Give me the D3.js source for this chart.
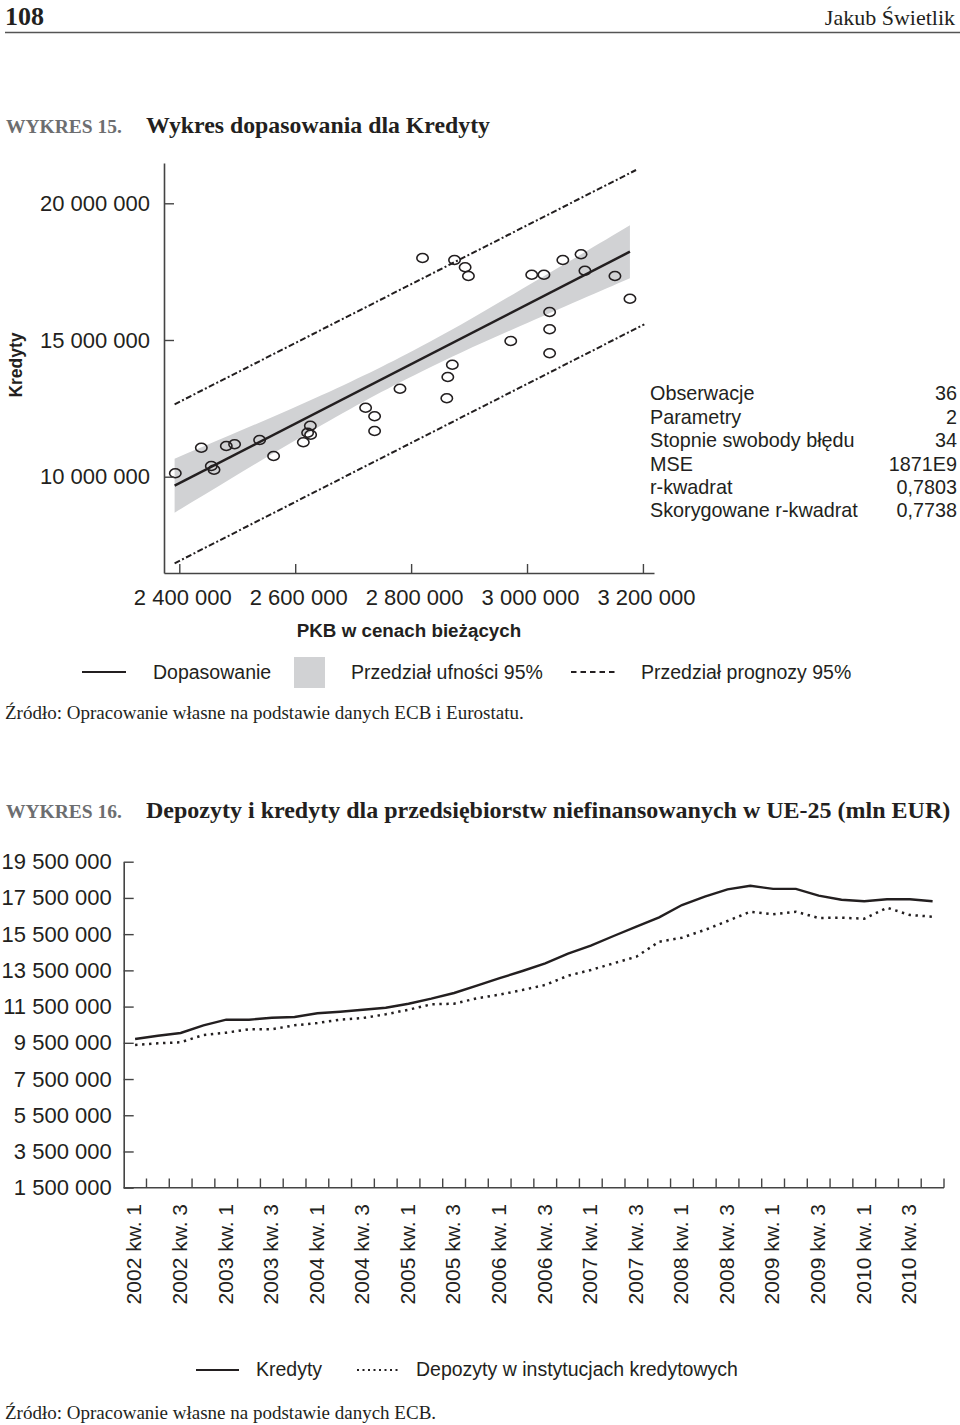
<!DOCTYPE html>
<html><head><meta charset="utf-8">
<script src="https://cdn.jsdelivr.net/npm/d3@7"></script>
<style>
body{margin:0;background:#fff}
svg text{fill:#231f20}
.sans{font-family:"Liberation Sans",Arial,sans-serif}
.serif{font-family:"Liberation Serif","Times New Roman",serif}
</style>
</head><body>
<svg id="c" width="960" height="1425"></svg>
<script>
// ---------- DATA: Wykres 15 ----------
const pkb = [2393100,2438000,2455200,2459900,2481100,2495400,2538600,2562700,2614000,2621400,2626100,2626600,
  2721500,2737000,2737000,2780800,2819700,2861600,2863300,2871100,2874900,2893200,2898900,2971900,
  3008100,3029200,3039000,3039000,3039000,3061800,3093200,3099900,3151700,3177600];
const kredytyObs = [10124000,11060700,10391400,10256000,11122900,11185100,11342300,10757100,11258200,11609300,11865400,11536200,
  12523700,12209100,11671500,13218700,17999200,12867600,13646700,14096500,17926000,17659000,17340800,14963400,
  17388400,17388400,16024100,15391300,14513500,17926000,18134500,17534600,17340800,16510500];
const fitX = [2391900, 3177560];
const fitY = [9670800, 18229600];
const ciX     = [2391900, 2488000, 2591540, 2695070, 2781350, 2884890, 2988420, 3091960, 3177560];
const ciLower = [8683300, 9912200, 11225300, 12479900, 13456400, 14528100, 15512000, 16474000, 17260300];
const ciUpper = [10658400, 11521600, 12468900, 13467400, 14370800, 15552200, 16828700, 18119900, 19198900];
const predUpperX = [2391900, 3188080], predUpperY = [12648100, 21217900];
const predLowerX = [2391900, 3202400], predLowerY = [6832500, 15574200];
const xTicks1 = [2400000, 2600000, 2800000, 3000000, 3200000];
const yTicks1 = [10000000, 15000000, 20000000];
const statLabels = ["Obserwacje","Parametry","Stopnie swobody błędu","MSE","r-kwadrat","Skorygowane r-kwadrat"];
const statValues = ["36","2","34","1871E9","0,7803","0,7738"];
const legend1 = ["Dopasowanie","Przedział ufności 95%","Przedział prognozy 95%"];

// ---------- DATA: Wykres 16 ----------
const years = [2002,2003,2004,2005,2006,2007,2008,2009,2010];
const quarters = [];
years.forEach(y => [1,2,3,4].forEach(q => quarters.push(y + " kw. " + q)));
const kredyty2 = [9710500,9892700,10041800,10467000,10776000,10776000,10886500,10925200,11129500,11218000,11328000,11438700,
  11659600,11935600,12250400,12653400,13070000,13465100,13890300,14420300,14862000,15397600,15911100,16430100,
  17109300,17567600,17976200,18175000,17998300,17998300,17622800,17402000,17313600,17424100,17424100,17313600];
const depozyty2 = [9379200,9473000,9528300,9931300,10058300,10246000,10246000,10467000,10594000,10776000,10870000,11074300,
  11328000,11626500,11659600,11957700,12160000,12416000,12692000,13205600,13520300,13890300,14254700,15082900,
  15303800,15729000,16225900,16739300,16595800,16739300,16391500,16408100,16352800,16960200,16557100,16463200];
const yTicks2 = [1500000,3500000,5500000,7500000,9500000,11500000,13500000,15500000,17500000,19500000];
const legend2 = ["Kredyty","Depozyty w instytucjach kredytowych"];

// ---------- helpers ----------
const loc = d3.formatLocale({decimal:",", thousands:" ", grouping:[3], currency:["",""]});
const fmt = loc.format(",d");
const svg = d3.select("#c");
const INK = "#231f20";

// ---------- header ----------
svg.append("text").attr("class","serif").attr("x",5).attr("y",25)
  .style("font-size","26px").style("font-weight","bold").text("108");
svg.append("text").attr("class","serif").attr("x",955).attr("y",25).attr("text-anchor","end")
  .style("font-size","22px").text("Jakub Świetlik");
svg.append("line").attr("x1",5).attr("x2",960).attr("y1",32.5).attr("y2",32.5)
  .attr("stroke","#555").attr("stroke-width",1.3);

function title(y, num, txt, size){
  svg.append("text").attr("class","serif").attr("x",6).attr("y",y)
    .style("font-size","19.5px").style("font-weight","bold").style("fill","#6d6e70").text(num);
  svg.append("text").attr("class","serif").attr("x",146).attr("y",y)
    .style("font-size",size+"px").style("font-weight","bold").text(txt);
}
title(133, "WYKRES 15.", "Wykres dopasowania dla Kredyty", 23.8);

// ---------- Chart 1 ----------
const x1 = d3.scaleLinear().domain([2373600, 3219100]).range([164, 654]);
const y1 = d3.scaleLinear().domain([6477700, 21474000]).range([573, 163]);

// CI band
const band = ciX.map((v,i)=>({x:v, lo:ciLower[i], hi:ciUpper[i]}));
svg.append("path").datum(band)
  .attr("d", d3.area().x(d=>x1(d.x)).y0(d=>y1(d.lo)).y1(d=>y1(d.hi)).curve(d3.curveNatural))
  .attr("fill","#d1d2d4");

// prediction lines
const dashPred = "6,2.4,2,2.4";
[[predUpperX,predUpperY],[predLowerX,predLowerY]].forEach(([xs,ys])=>{
  svg.append("path").datum(xs.map((v,i)=>[v,ys[i]]))
    .attr("d", d3.line().x(d=>x1(d[0])).y(d=>y1(d[1])))
    .attr("fill","none").attr("stroke",INK).attr("stroke-width",2).attr("stroke-dasharray",dashPred);
});

// fit line
svg.append("path").datum(fitX.map((v,i)=>[v,fitY[i]]))
  .attr("d", d3.line().x(d=>x1(d[0])).y(d=>y1(d[1])))
  .attr("fill","none").attr("stroke",INK).attr("stroke-width",2.5);

// points
svg.append("g").selectAll("ellipse").data(pkb.map((v,i)=>[v,kredytyObs[i]])).join("ellipse")
  .attr("cx",d=>x1(d[0])).attr("cy",d=>y1(d[1])).attr("rx",5.7).attr("ry",4.5)
  .attr("fill","none").attr("stroke",INK).attr("stroke-width",1.6);

// axes
const ax1 = svg.append("g").attr("transform","translate(164,0)")
  .call(d3.axisLeft(y1).tickValues(yTicks1).tickSizeInner(-10).tickSizeOuter(0).tickPadding(14).tickFormat(fmt));
const ax1b = svg.append("g").attr("transform","translate(0,573)")
  .call(d3.axisBottom(x1).tickValues(xTicks1).tickSizeInner(-9).tickSizeOuter(0).tickPadding(16).tickFormat(fmt));
[ax1, ax1b].forEach(a=>{
  a.select(".domain").attr("stroke","#444").attr("stroke-width",1.6);
  a.selectAll(".tick line").attr("stroke","#444").attr("stroke-width",1.4);
  a.selectAll(".tick text").attr("class","sans").style("font-size","22px").style("fill",INK);
});
ax1.selectAll(".tick text").attr("x",-14);
ax1b.selectAll(".tick text").attr("dx","3");

svg.append("text").attr("class","sans").attr("transform","translate(22,365) rotate(-90)")
  .attr("text-anchor","middle").style("font-size","17.5px").style("font-weight","bold").text("Kredyty");
svg.append("text").attr("class","sans").attr("x",409).attr("y",637).attr("text-anchor","middle")
  .style("font-size","18.8px").style("font-weight","bold").text("PKB w cenach bieżących");

// stats block
const stats = svg.append("g").attr("class","sans").style("font-size","19.8px");
statLabels.forEach((s,i)=>{
  const yy = 393.5 + i*23.4;
  stats.append("text").attr("x",650).attr("y",yy).attr("dy","0.35em").text(s);
  stats.append("text").attr("x",957).attr("y",yy).attr("dy","0.35em").attr("text-anchor","end").text(statValues[i]);
});

// legend 1
const lg1 = svg.append("g").attr("class","sans").style("font-size","19.5px");
lg1.append("line").attr("x1",82).attr("x2",126).attr("y1",672).attr("y2",672).attr("stroke",INK).attr("stroke-width",2);
lg1.append("text").attr("x",153).attr("y",672).attr("dy","0.35em").text(legend1[0]);
lg1.append("rect").attr("x",294).attr("y",657).attr("width",31).attr("height",31).attr("fill","#d1d2d4");
lg1.append("text").attr("x",351).attr("y",672).attr("dy","0.35em").text(legend1[1]);
lg1.append("line").attr("x1",571).attr("x2",615).attr("y1",672).attr("y2",672).attr("stroke",INK)
  .attr("stroke-width",1.8).attr("stroke-dasharray","5.5,4");
lg1.append("text").attr("x",641).attr("y",672).attr("dy","0.35em").text(legend1[2]);

svg.append("text").attr("class","serif").attr("x",5).attr("y",719).style("font-size","19px")
  .text("Źródło: Opracowanie własne na podstawie danych ECB i Eurostatu.");

// ---------- Chart 2 ----------
title(818, "WYKRES 16.", "Depozyty i kredyty dla przedsiębiorstw niefinansowanych w UE-25 (mln EUR)", 24);

const x2 = d3.scaleBand().domain(quarters).range([123.7, 944]).padding(0);
const y2 = d3.scaleLinear().domain([1500000, 19500000]).range([1187.7, 861.7]);

const ay2 = svg.append("g").attr("transform","translate(123.7,0)")
  .call(d3.axisLeft(y2).tickValues(yTicks2).tickSizeInner(-10).tickSizeOuter(0).tickPadding(12).tickFormat(fmt));
ay2.select(".domain").attr("stroke","#444").attr("stroke-width",1.6);
ay2.selectAll(".tick line").attr("stroke","#444").attr("stroke-width",1.4);
ay2.selectAll(".tick text").attr("class","sans").attr("x",-12).style("font-size","22px").style("fill",INK);

// x axis with ticks at band boundaries
const ax2 = svg.append("g");
ax2.append("line").attr("x1",x2.range()[0]).attr("x2",x2.range()[1]).attr("y1",1187.7).attr("y2",1187.7)
  .attr("stroke","#444").attr("stroke-width",1.6);
ax2.selectAll("line.t").data(quarters).join("line").attr("class","t")
  .attr("x1",d=>x2(d)+x2.bandwidth()).attr("x2",d=>x2(d)+x2.bandwidth())
  .attr("y1",1187.7).attr("y2",1178.5).attr("stroke","#444").attr("stroke-width",1.4);
ax2.selectAll("text").data(quarters.filter(q=>/kw\. [13]$/.test(q))).join("text")
  .attr("class","sans").style("font-size","21px")
  .attr("transform",d=>`translate(${x2(d)+x2.bandwidth()/2-1},1204) rotate(-90)`)
  .attr("text-anchor","end").attr("dy","0.35em").text(d=>d);

const line2 = d3.line().x((d,i)=>x2(quarters[i])+x2.bandwidth()/2).y(d=>y2(d));
svg.append("path").datum(kredyty2).attr("d",line2).attr("fill","none").attr("stroke",INK).attr("stroke-width",2.4);
svg.append("path").datum(depozyty2).attr("d",line2).attr("fill","none").attr("stroke",INK)
  .attr("stroke-width",2.5).attr("stroke-dasharray","2.4,4.6");

// legend 2
const lg2 = svg.append("g").attr("class","sans").style("font-size","19.5px");
lg2.append("line").attr("x1",196).attr("x2",239).attr("y1",1370).attr("y2",1370).attr("stroke",INK).attr("stroke-width",2);
lg2.append("text").attr("x",256).attr("y",1369).attr("dy","0.35em").text(legend2[0]);
lg2.append("line").attr("x1",357).attr("x2",399).attr("y1",1370).attr("y2",1370).attr("stroke",INK)
  .attr("stroke-width",2).attr("stroke-dasharray","2,3.5");
lg2.append("text").attr("x",416).attr("y",1369).attr("dy","0.35em").text(legend2[1]);

svg.append("text").attr("class","serif").attr("x",5).attr("y",1419).style("font-size","19px")
  .text("Źródło: Opracowanie własne na podstawie danych ECB.");
</script>
</body></html>
